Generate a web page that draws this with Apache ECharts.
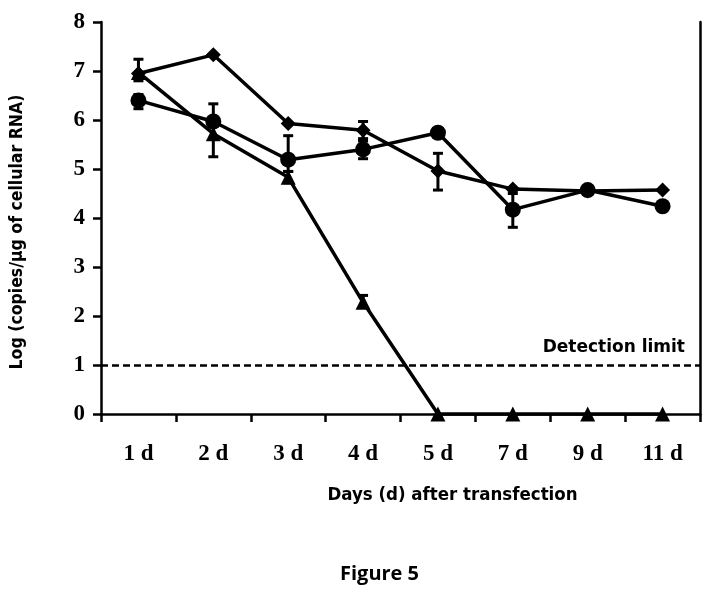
<!DOCTYPE html>
<html>
<head>
<meta charset="utf-8">
<script src="https://cdn.jsdelivr.net/npm/echarts@6/dist/echarts.min.js"></script>
<style>
    html, body { margin: 0; padding: 0; background: #fff; }
    #chart { width: 712px; height: 598px; }
</style>
</head>
<body>
<div id="chart"></div>
<script>
// categories / tick labels
var days = ['1 d', '2 d', '3 d', '4 d', '5 d', '7 d', '9 d', '11 d'];
var yTicks = [0, 1, 2, 3, 4, 5, 6, 7, 8];

// diamond series
var diamondVals = [6.95, 7.33, 5.93, 5.79, 4.96, 4.59, 4.55, 4.57];
var diamondLow = [null, null, null, 5.62, 4.57, null, null, null];
var diamondHigh = [null, null, null, 5.97, 5.32, null, null, null];

// circle series
var circleVals = [6.40, 5.97, 5.19, 5.40, 5.74, 4.17, 4.57, 4.24];
var circleLow = [6.23, 5.25, 4.95, 5.21, null, 3.81, null, null];
var circleHigh = [6.52, 6.33, 5.68, 5.57, null, 4.50, null, null];

// triangle series
var triangleVals = [6.97, 5.72, 4.83, 2.28, 0, 0, 0, 0];
var triangleLow = [6.80, null, 4.72, 2.18, null, null, null, null];
var triangleHigh = [7.24, null, 4.95, 2.42, null, null, null, null];

var detectionLimit = 1;

function errData(low, high) {
    var out = [];
    for (var i = 0; i < low.length; i++) {
        if (low[i] != null && high[i] != null) {
            out.push([i, low[i], high[i]]);
        }
    }
    return out;
}

// vertical error bar with caps
function renderErr(params, api) {
    var lo = api.coord([api.value(0), api.value(1)]);
    var hi = api.coord([api.value(0), api.value(2)]);
    var w = 5;
    var st = { stroke: '#000', lineWidth: 3 };
    return {
        type: 'group',
        children: [
            { type: 'line', shape: { x1: lo[0], y1: lo[1], x2: hi[0], y2: hi[1] }, style: st },
            { type: 'line', shape: { x1: lo[0] - w, y1: lo[1], x2: lo[0] + w, y2: lo[1] }, style: st },
            { type: 'line', shape: { x1: hi[0] - w, y1: hi[1], x2: hi[0] + w, y2: hi[1] }, style: st }
        ]
    };
}

function lineSeries(name, vals, symbol, size) {
    return {
        name: name,
        type: 'line',
        data: vals,
        symbol: symbol,
        symbolSize: size,
        clip: false,
        z: 5,
        lineStyle: { color: '#000', width: 3.5 },
        itemStyle: { color: '#000' }
    };
}

function errSeries(low, high) {
    return {
        type: 'custom',
        renderItem: renderErr,
        data: errData(low, high),
        clip: false,
        z: 4
    };
}

var chart = echarts.init(document.getElementById('chart'));

var tri = lineSeries('triangle', triangleVals, 'triangle', 15);
tri.markLine = {
    silent: true,
    symbol: 'none',
    lineStyle: { color: '#000', width: 2.5, type: [7, 4] },
    label: {
        show: true,
        position: 'insideEndTop',
        formatter: 'Detection limit',
        color: '#000',
        fontFamily: 'DejaVu Sans',
        fontWeight: 'bold',
        fontSize: 17,
        distance: [15, 9]
    },
    data: [{ yAxis: detectionLimit }]
};

chart.setOption({
    backgroundColor: '#fff',
    animation: false,
    title: {
        text: 'Figure 5',
        left: 335,
        top: 559,
        textStyle: { fontFamily: 'Open Sans', fontWeight: 'bold', fontSize: 20, color: '#000' }
    },
    grid: { left: 97, right: 12, top: 22, bottom: 184 },
    xAxis: {
        type: 'category',
        data: days,
        boundaryGap: true,
        name: 'Days (d) after transfection',
        nameLocation: 'middle',
        nameGap: 72,
        nameTextStyle: {
            fontFamily: 'DejaVu Sans Condensed', fontWeight: 'bold', fontSize: 18.5, color: '#000',
            padding: [0, 0, 0, 104]
        },
        axisLine: { lineStyle: { color: '#000', width: 2.5 } },
        axisTick: { show: true, inside: false, length: 8, lineStyle: { color: '#000', width: 2.5 } },
        axisLabel: {
            margin: 29,
            color: '#000',
            fontFamily: 'Liberation Serif',
            fontWeight: 'bold',
            fontSize: 23
        },
        splitLine: { show: false }
    },
    yAxis: [{
        type: 'value',
        min: yTicks[0],
        max: yTicks[yTicks.length - 1],
        interval: 1,
        name: 'Log (copies/µg of cellular RNA)',
        nameLocation: 'middle',
        nameGap: 75,
        nameTextStyle: {
            fontFamily: 'DejaVu Sans Condensed', fontWeight: 'bold', fontSize: 17.5, color: '#000',
            padding: [0, 28, 0, 0]
        },
        axisLine: { show: true, lineStyle: { color: '#000', width: 2.5 } },
        axisTick: { show: true, length: 8, lineStyle: { color: '#000', width: 2.5 } },
        axisLabel: {
            margin: 16,
            color: '#000',
            fontFamily: 'Liberation Serif',
            fontWeight: 'bold',
            fontSize: 23
        },
        splitLine: { show: false }
    }, {
        type: 'value',
        position: 'right',
        min: yTicks[0],
        max: yTicks[yTicks.length - 1],
        interval: 1,
        axisLine: { show: true, lineStyle: { color: '#000', width: 2.5 } },
        axisTick: { show: false },
        axisLabel: { show: false },
        splitLine: { show: false }
    }],
    series: [
        errSeries(diamondLow, diamondHigh),
        errSeries(circleLow, circleHigh),
        errSeries(triangleLow, triangleHigh),
        lineSeries('diamond', diamondVals, 'diamond', 15),
        lineSeries('circle', circleVals, 'circle', 16),
        tri
    ]
});
</script>
</body>
</html>
